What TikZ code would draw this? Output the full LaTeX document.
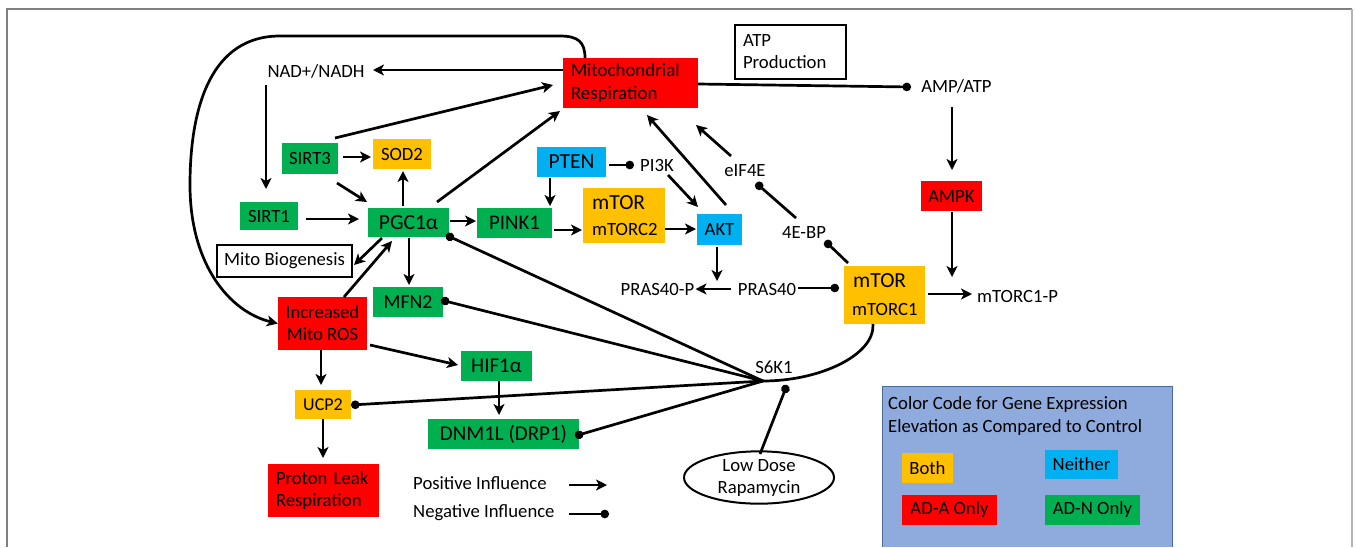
\documentclass[tikz,border=0pt]{standalone}
\usepackage{fontspec}
\setmainfont{Carlito}
\usetikzlibrary{arrows.meta,shapes.geometric}
\definecolor{cred}{HTML}{FF0000}
\definecolor{cgreen}{HTML}{00B050}
\definecolor{cyellow}{HTML}{FFC000}
\definecolor{cblue}{HTML}{00B0F0}
\definecolor{legbg}{HTML}{8FAADC}
\definecolor{legborder}{HTML}{4A6AA0}
\definecolor{framegray}{HTML}{808080}
\definecolor{framelight}{HTML}{B4B4B4}
\begin{document}
\begin{tikzpicture}[x=1pt,y=-1pt,
  txt/.style={font=\fontsize{18.7}{22}\selectfont, inner sep=0pt, text=black},
  bigtxt/.style={font=\fontsize{21.5}{24}\selectfont, inner sep=0pt, text=black},
  rbox/.style={fill=cred},
  gbox/.style={fill=cgreen},
  ybox/.style={fill=cyellow},
  bbox/.style={fill=cblue},
  wbox/.style={draw=black, line width=2.5pt, fill=white},
  posarr/.style={line width=2.7pt, -{Stealth[length=11pt,width=11pt,inset=3pt]}},
  negarr/.style={line width=2.7pt, -{Circle[length=8.5pt]}},
  plainline/.style={line width=2.7pt}
]
\useasboundingbox (0,0) rectangle (1356,547);
\fill[white] (0,0) rectangle (1356,547);
% frame
\draw[framegray, line width=2pt] (7,547) -- (7,9) -- (1352,9);
\draw[framelight, line width=2pt] (1352,9) -- (1352,547);

% legend panel
\fill[legbg] (882,386) rectangle (1172,547);
\draw[legborder, line width=1pt] (882,547) -- (882,386) -- (1172,386) -- (1172,547);
\node[txt, anchor=west, align=left, font=\fontsize{18.7}{23}\selectfont] (legtitle) at (888,416.5) {Color Code for Gene Expression\\Elevation as Compared to Control};
\node[txt, ybox, minimum width=51pt, minimum height=30pt] (both) at (927.5,468) {Both};
\node[txt, bbox, minimum width=73pt, minimum height=29pt] (neither) at (1081.5,464.5) {Neither};
\node[txt, rbox, minimum width=95pt, minimum height=30pt] (ada) at (949.5,510) {AD-A Only};
\node[txt, gbox, minimum width=95pt, minimum height=30pt] (adn) at (1092.5,510) {AD-N Only};

% nodes
\node[txt, rbox, minimum width=135pt, minimum height=50pt, text width=119pt, inner xsep=8pt, align=left, font=\fontsize{18.9}{23}\selectfont] (mito) at (630.5,83) {Mitochondrial\\Respiration};
\node[txt, wbox, minimum width=111pt, minimum height=54pt, text width=95pt, inner xsep=8pt, align=left, font=\fontsize{18.7}{22}\selectfont] (atp) at (790.5,52) {ATP\\Production};
\node[txt] (nad) at (316,71) {NAD+/NADH};
\node[txt] (amp) at (956.5,86) {AMP/ATP};
\node[txt, gbox, minimum width=56pt, minimum height=31pt] (sirt3) at (310,158.5) {SIRT3};
\node[txt, ybox, minimum width=58pt, minimum height=30pt] (sod2) at (402,154) {SOD2};
\node[txt, gbox, minimum width=58pt, minimum height=28pt] (sirt1) at (269,216) {SIRT1};
\node[bigtxt, gbox, minimum width=81pt, minimum height=29pt] (pgc) at (408.5,222.5) {PGC1α};
\node[txt, gbox, minimum width=75pt, minimum height=30pt, font=\fontsize{20.8}{24}\selectfont] (pink) at (514.5,223) {PINK1};
\node[bigtxt, bbox, minimum width=69pt, minimum height=30pt] (pten) at (571.5,162) {PTEN};
\node[txt] (pik) at (657,165) {PI3K};
\node[ybox, minimum width=82pt, minimum height=55pt, inner sep=0pt] (mtorc2) at (624,215.5) {};
\node[bigtxt, anchor=west] (mtorc2a) at (592,203) {mTOR};
\node[txt, anchor=west] (mtorc2b) at (592,229) {mTORC2};
\node[txt, bbox, minimum width=45pt, minimum height=31pt] (akt) at (719.5,229.5) {AKT};
\node[txt] (eif) at (745,171) {eIF4E};
\node[txt] (ebp) at (804,232) {4E-BP};
\node[txt, rbox, minimum width=61pt, minimum height=30pt] (ampk) at (951.5,196) {AMPK};
\node[ybox, minimum width=81pt, minimum height=58pt, inner sep=0pt] (mtorc1) at (884.5,295) {};
\node[bigtxt, anchor=west] (mtorc1a) at (853,281) {mTOR};
\node[txt, anchor=west] (mtorc1b) at (852,309) {mTORC1};
\node[txt, anchor=west] (mtorcp) at (977,296) {mTORC1-P};
\node[txt] (pras) at (767,289) {PRAS40};
\node[txt] (prasp) at (657.5,289) {PRAS40-P};
\node[txt, wbox, minimum width=135pt, minimum height=32pt] (biog) at (284.5,261) {Mito Biogenesis};
\node[txt, rbox, minimum width=89pt, minimum height=53pt, align=center, font=\fontsize{18.7}{22}\selectfont] (ros) at (322.5,323.5) {Increased\\Mito ROS};
\node[txt, gbox, minimum width=70pt, minimum height=30pt, font=\fontsize{19.8}{23}\selectfont] (mfn) at (408,302) {MFN2};
\node[bigtxt, gbox, minimum width=71pt, minimum height=30pt, font=\fontsize{21}{24}\selectfont] (hif) at (496.5,366) {HIF1α};
\node[txt, ybox, minimum width=56pt, minimum height=29pt, font=\fontsize{18}{22}\selectfont] (ucp) at (323,404.5) {UCP2};
\node[bigtxt, gbox, minimum width=151pt, minimum height=30pt, font=\fontsize{21}{24}\selectfont] (dnm) at (503.5,434) {DNM1L (DRP1)};
\node[txt, rbox, minimum width=111pt, minimum height=53pt, text width=95pt, inner xsep=8pt, align=left, font=\fontsize{18.7}{22}\selectfont] (proton) at (323.5,490.5) {Proton Leak\\Respiration};
\node[txt] (s6k) at (774,367) {S6K1};
\coordinate (s6) at (763,381);
\node[txt, draw=black, line width=2pt, ellipse, minimum width=150pt, minimum height=47pt, inner sep=0pt, align=center, font=\fontsize{18.7}{22}\selectfont] (rapa) at (759,477.5) {Low Dose\\Rapamycin};
\node[txt, anchor=west] (posl) at (413,483) {Positive Influence};
\node[txt, anchor=west] (negl) at (413,513) {Negative Influence};

% big loop
\draw[posarr] ([shift={(-45.5,-25)}]mito.center) .. controls (585,42) and (578,36) .. (560,36) -- (280,36) .. controls (212,36) and (190,105) .. (190,185) .. controls (190,265) and (230,312) .. (ros.west);

% connectors
\draw[posarr] ([shift={(-67.5,-13)}]mito.center) -- ([shift={(57,-1)}]nad.center);
\draw[posarr] ([shift={(-50,14)}]nad.center) -- ([shift={(-3,-27)}]sirt1.center);
\draw[posarr] ([shift={(25,-20.5)}]sirt3.center) -- ([shift={(-77.5,2)}]mito.center);
\draw[posarr] ([shift={(33,-1.5)}]sirt3.center) -- ([shift={(-31,3)}]sod2.center);
\draw[posarr] ([shift={(27,24.5)}]sirt3.center) -- ([shift={(-41.5,-20.5)}]pgc.center);
\draw[posarr] ([shift={(-5.5,-16.5)}]pgc.center) -- ([shift={(1,17)}]sod2.center);
\draw[posarr] ([shift={(28.5,-20.5)}]pgc.center) -- ([shift={(-70.5,28)}]mito.center);
\draw[posarr] ([shift={(37,3)}]sirt1.center) -- ([shift={(-49.5,-3.5)}]pgc.center);
\draw[posarr] ([shift={(41.5,-1.5)}]pgc.center) -- ([shift={(-38.5,-2)}]pink.center);
\draw[posarr] ([shift={(39.5,7)}]pink.center) -- ([shift={(-42,14.5)}]mtorc2.center);
\draw[posarr] ([shift={(41,13.5)}]mtorc2.center) -- ([shift={(-23.5,-0.5)}]akt.center);
\draw[posarr] ([shift={(-21.5,16)}]pten.center) -- ([shift={(35.5,-17)}]pink.center);
\draw[negarr] ([shift={(37.5,3)}]pten.center) -- ([shift={(-23,0)}]pik.center);
\draw[posarr] ([shift={(11,10)}]pik.center) -- ([shift={(-21.5,-22.5)}]akt.center);
\draw[posarr] ([shift={(6.5,-24.5)}]akt.center) -- ([shift={(16.5,32)}]mito.center);
\draw[posarr] ([shift={(-14,-15)}]eif.center) -- ([shift={(65.5,42)}]mito.center);
\draw[negarr] ([shift={(-8,-14)}]ebp.center) -- ([shift={(11,12)}]eif.center);
\draw[negarr] ([shift={(-36.5,-32)}]mtorc1.center) -- ([shift={(21,9)}]ebp.center);
\draw[negarr] ([shift={(67.5,1)}]mito.center) -- ([shift={(-45.5,1)}]amp.center);
\draw[posarr] ([shift={(-4.5,21)}]amp.center) -- ([shift={(0.5,-26)}]ampk.center);
\draw[posarr] ([shift={(0.5,16)}]ampk.center) -- ([shift={(0.5,81)}]ampk.center);
\draw[posarr] ([shift={(43.5,-1)}]mtorc1.center) -- ([shift={(-5,-2)}]mtorcp.west);
\draw[negarr] ([shift={(31,-1)}]pras.center) -- ([shift={(-45.5,-7)}]mtorc1.center);
\draw[posarr] ([shift={(-36,0)}]pras.center) -- ([shift={(38,0)}]prasp.center);
\draw[posarr] ([shift={(-2.5,17.5)}]akt.center) -- ([shift={(-50,-8)}]pras.center);
\draw[posarr] ([shift={(-26.5,15.5)}]pgc.center) -- ([shift={(69.5,4)}]biog.center);
\draw[posarr] ([shift={(21.5,-26.5)}]ros.center) -- ([shift={(-16.5,18.5)}]pgc.center);
\draw[posarr] ([shift={(0.5,15.5)}]pgc.center) -- ([shift={(1,-17)}]mfn.center);
\draw[posarr] ([shift={(47.5,21.5)}]ros.center) -- ([shift={(-38.5,-1)}]hif.center);
\draw[posarr] ([shift={(-1.5,26.5)}]ros.center) -- ([shift={(-2,-19.5)}]ucp.center);
\draw[posarr] ([shift={(2.5,15)}]hif.center) -- ([shift={(-4.5,-19)}]dnm.center);
\draw[posarr] ([shift={(0,14.5)}]ucp.center) -- ([shift={(-0.5,-32.5)}]proton.center);

% S6K1 hub
\draw[negarr] (s6) -- ([shift={(37.5,12.5)}]pgc.center);
\draw[negarr] (s6) -- ([shift={(33,-2)}]mfn.center);
\draw[negarr] (s6) -- ([shift={(28,0.5)}]ucp.center);
\draw[negarr] (s6) -- ([shift={(71.5,2)}]dnm.center);
\draw[plainline] (s6) .. controls (820,381) and (875,355) .. ([shift={(-11.5,29)}]mtorc1.center);
\draw[negarr] ([shift={(1,-23.5)}]rapa.center) -- ([shift={(24,4)}]s6);

% legend arrows
\draw[posarr] ([shift={(156,2)}]posl.west) -- ([shift={(194,2)}]posl.west);
\draw[negarr] ([shift={(156,1)}]negl.west) -- ([shift={(196,1)}]negl.west);
\end{tikzpicture}
\end{document}
